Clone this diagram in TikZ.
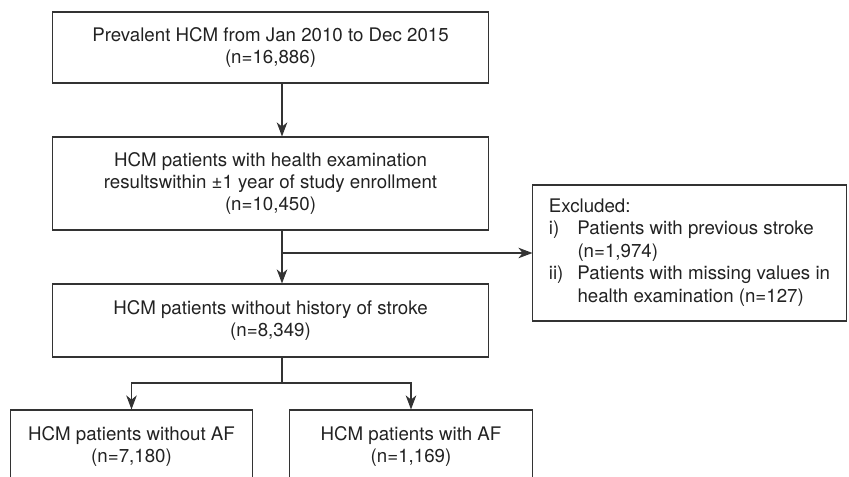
\documentclass[tikz,border=0pt]{standalone}
\usepackage{fontspec}
\setmainfont{TeX Gyre Heros}
\usetikzlibrary{arrows.meta}

\definecolor{linegray}{HTML}{333333}
\definecolor{textgray}{HTML}{222222}

\tikzset{
  box/.style={draw=linegray, line width=0.75pt, text=textgray, align=center,
    inner sep=0pt, font=\fontsize{13.3}{16}\selectfont},
  arr/.style={draw=linegray, line width=0.75pt,
    -{Stealth[length=10pt, width=7.5pt, inset=3pt]}},
  link/.style={draw=linegray, line width=0.75pt}
}

\begin{document}
\begin{tikzpicture}[x=0.025cm, y=-0.025cm]

% Page frame (pixel units, y going down)
\useasboundingbox (0,0) rectangle (849,477);
\clip (0,0) rectangle (849,477);

% Main column boxes
\node[box, minimum width=10.875cm, minimum height=1.775cm] (b1) at (270.5,47.5)
  {Prevalent HCM from Jan 2010 to Dec 2015\\(n=16,886)};
\node[box, minimum width=10.875cm, minimum height=2.325cm] (b2) at (270.5,183.5)
  {HCM patients with health examination\\resultswithin ±1 year of study enrollment\\(n=10,450)};
\node[box, minimum width=10.875cm, minimum height=1.825cm] (b3) at (270.5,320.5)
  {HCM patients without history of stroke\\(n=8,349)};

% Exclusion box
\node[box, minimum width=7.825cm, minimum height=3.4cm] (excl) at (689.5,253)
  {\begin{tabular}{@{}l@{\hspace{10pt}}l@{}}
    \multicolumn{2}{@{}l}{Excluded:}\\
    i)  & Patients with previous stroke\\
        & (n=1,974)\\
    ii) & Patients with missing values in\\
        & health examination (n=127)
  \end{tabular}};

% Bottom boxes (cut by the page edge)
\node[box, minimum width=6.025cm, minimum height=1.825cm] (b4) at (131.5,446.5)
  {HCM patients without AF\\(n=7,180)};
\node[box, minimum width=6.05cm, minimum height=1.825cm] (b5) at (411,446.5)
  {HCM patients with AF\\(n=1,169)};

% Spine of the flow and the split point
\coordinate (spine) at (282,0);
\coordinate (split) at (282,383);

% Arrows down the main column
\draw[arr] (b1.south -| spine) -- (b2.north -| spine);
\draw[arr] (b2.south -| spine) -- (b3.north -| spine);

% Branch to the exclusion box
\draw[arr] (excl.west -| spine) -- (excl.west);

% Split into the two groups
\draw[link] (b3.south -| spine) -- (split);
\draw[arr] (split) -| (b4.north);
\draw[arr] (split) -| (b5.north);

\end{tikzpicture}
\end{document}
